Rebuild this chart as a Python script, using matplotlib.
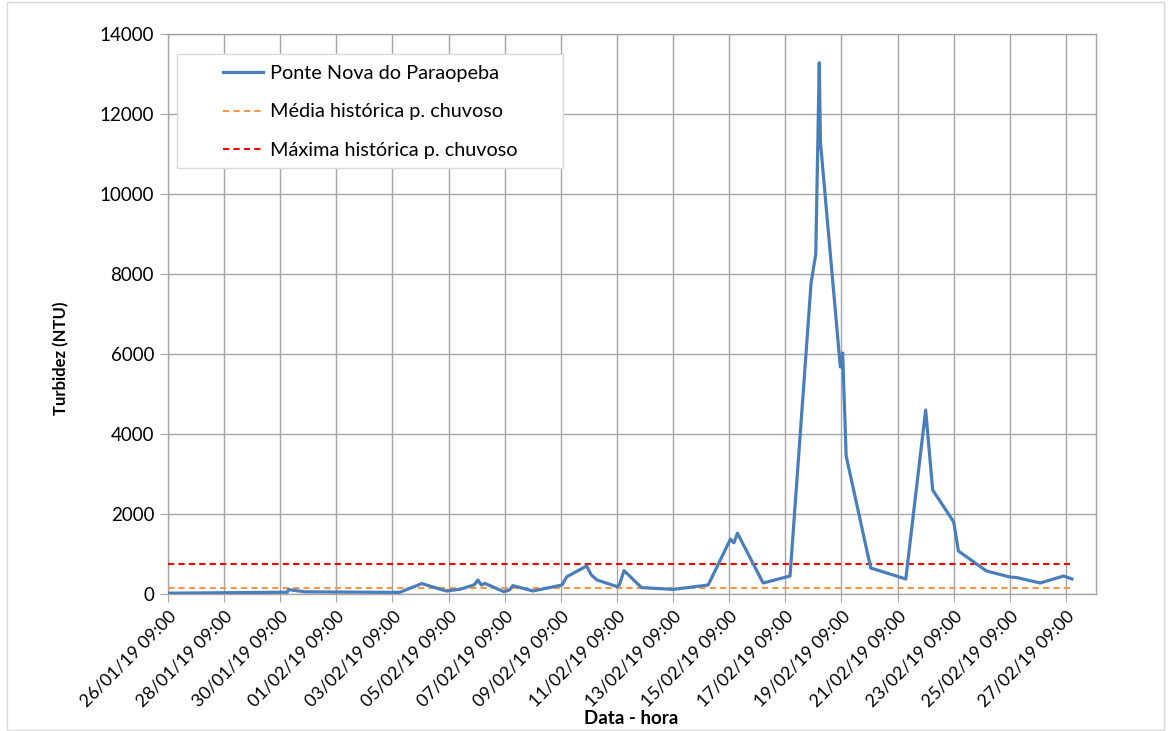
import matplotlib
matplotlib.use("Agg")
import matplotlib.pyplot as plt
from matplotlib.patches import Rectangle
from matplotlib.lines import Line2D
import pandas as pd

plt.rcParams['font.family'] = ['Lato', 'DejaVu Sans']

# ---- data ----
times = [
    "2019-01-26 09:00", "2019-01-30 15:00", "2019-01-30 16:00", "2019-01-31 06:00",
    "2019-02-03 15:00", "2019-02-04 10:00", "2019-02-05 07:00", "2019-02-05 19:00",
    "2019-02-06 07:00", "2019-02-06 10:00", "2019-02-06 13:00", "2019-02-06 16:00",
    "2019-02-07 08:00", "2019-02-07 13:00", "2019-02-07 16:00", "2019-02-08 09:00",
    "2019-02-09 10:00", "2019-02-09 14:00", "2019-02-10 07:00", "2019-02-10 11:00",
    "2019-02-10 16:00", "2019-02-11 09:00", "2019-02-11 11:00", "2019-02-11 15:00",
    "2019-02-12 06:00", "2019-02-13 09:00", "2019-02-14 15:00", "2019-02-15 10:00",
    "2019-02-15 13:00", "2019-02-15 16:00", "2019-02-16 14:00", "2019-02-17 13:00",
    "2019-02-18 07:00", "2019-02-18 11:00", "2019-02-18 14:00", "2019-02-18 15:00",
    "2019-02-19 08:00", "2019-02-19 10:00", "2019-02-19 13:00", "2019-02-20 10:00",
    "2019-02-21 16:00", "2019-02-22 09:00", "2019-02-22 15:00", "2019-02-23 09:00",
    "2019-02-23 13:00", "2019-02-24 13:00", "2019-02-25 09:00", "2019-02-25 15:00",
    "2019-02-26 11:00", "2019-02-27 07:00", "2019-02-27 14:00",
]
turbidez = [
    20, 45, 110, 55,
    40, 260, 75, 120,
    230, 350, 225, 265,
    60, 100, 210, 75,
    225, 430, 700, 475,
    350, 185, 225, 585,
    160, 115, 225, 1370,
    1280, 1520, 275, 450,
    7775, 8500, 13280, 11300,
    5675, 6025, 3450, 650,
    375, 4600, 2600, 1800,
    1075, 575, 425, 410,
    275, 450, 375,
]
media_historica = 160
maxima_historica = 750

tick_start = "2019-01-26 09:00"
tick_end = "2019-02-27 09:00"

series_label = "Ponte Nova do Paraopeba"
media_label = "Média histórica p. chuvoso"
maxima_label = "Máxima histórica p. chuvoso"

t = pd.to_datetime(times)

# ---- figure ----
fig = plt.figure(figsize=(11.72, 7.31), dpi=100)
ax = fig.add_axes([168/1172, 1-594/731, (1096-168)/1172, (594-34)/731])

grid_c = "#A6A6A6"
ax.set_axisbelow(True)
ax.grid(True, color=grid_c, linewidth=1.0)

ax.plot(t, turbidez, color="#4A7EBB", linewidth=2.3, solid_joinstyle="round", zorder=4)
ax.plot([t[0], t[-1]], [media_historica]*2, color="#F79646", linewidth=1.5,
        dashes=(3, 2), zorder=3)
ax.plot([t[0], t[-1]], [maxima_historica]*2, color="#FF0000", linewidth=1.5,
        dashes=(3, 2), zorder=3)

ticks = pd.date_range(tick_start, tick_end, freq="2D")
ax.set_xticks(ticks)
ax.set_xticklabels([d.strftime("%d/%m/%y %H:%M") for d in ticks],
                   rotation=45, ha="right", rotation_mode="anchor", fontsize=12.8)
ax.set_xlim(pd.Timestamp(tick_start), pd.Timestamp(tick_start) + pd.Timedelta(days=33.07))
ax.set_ylim(0, 14000)
ax.set_yticks(range(0, 14001, 2000))
ax.tick_params(axis="y", labelsize=13.5, length=6, color=grid_c, pad=4)
ax.tick_params(axis="x", length=6, color=grid_c, pad=4)
for s in ax.spines.values():
    s.set_color(grid_c)
    s.set_linewidth(1.0)

fig.text(61/1172, 1-358/731, "Turbidez (NTU)", fontsize=12, fontweight="bold",
         rotation=90, ha="center", va="center")
fig.text(631/1172, 1-718/731, "Data - hora", fontsize=13.5, fontweight="bold",
         ha="center", va="center")

# legend box
ax.add_patch(Rectangle((0.0097, 0.7607), 0.4159, 0.2036, transform=ax.transAxes,
                       facecolor="white", edgecolor="#D9D9D9", linewidth=1.0, zorder=5))
handles = [
    Line2D([], [], color="#4A7EBB", linewidth=2.3),
    Line2D([], [], color="#F79646", linewidth=1.5, dashes=(3, 2)),
    Line2D([], [], color="#FF0000", linewidth=1.5, dashes=(3, 2)),
]
leg = ax.legend(handles, [series_label, media_label, maxima_label],
                loc="upper left", bbox_to_anchor=(0.0593, 0.9446), frameon=False,
                borderpad=0, borderaxespad=0, fontsize=14.3, handlelength=2.0,
                handletextpad=0.35, labelspacing=1.08)
leg.set_zorder(6)

# chart area border
fig.add_artist(Rectangle((7/1172, 1/731), 1157/1172, 728/731, transform=fig.transFigure,
                         fill=False, edgecolor="#D9D9D9", linewidth=1.0))

fig.savefig("out.png", dpi=100)
